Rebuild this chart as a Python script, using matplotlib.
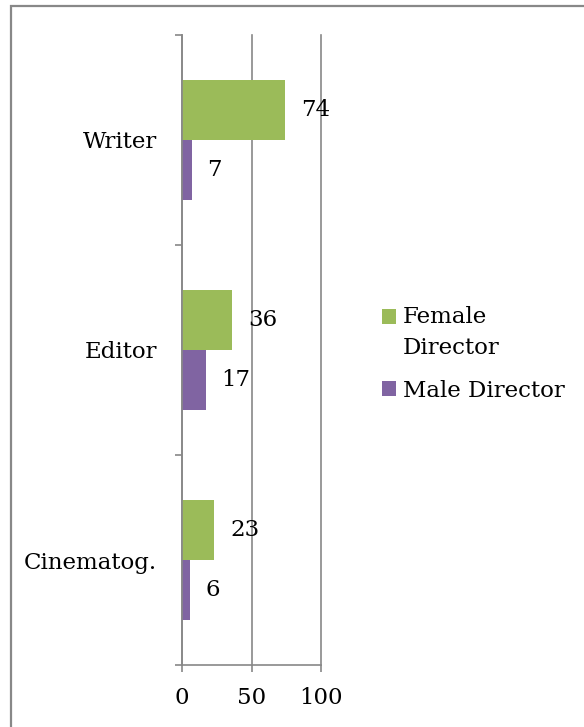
import matplotlib
matplotlib.use("Agg")
import matplotlib.pyplot as plt
from matplotlib.patches import Rectangle
from matplotlib.legend_handler import HandlerPatch
import numpy as np

categories = ["Cinematog.", "Editor", "Writer"]
female = [23, 36, 74]
male = [6, 17, 7]
xticks = [0, 50, 100]

GREEN = "#9bbb59"
PURPLE = "#8064a2"
GREY = "#888888"
FONT = "DejaVu Serif"
FS = 16.5

plt.rcParams["font.family"] = FONT

fig = plt.figure(figsize=(5.84, 7.27), dpi=100)
fig.patches.append(Rectangle((11 / 584, -0.01), 1.0, 1 - 6 / 727 + 0.01,
                             transform=fig.transFigure, fill=False,
                             edgecolor=GREY, linewidth=1.6))

ax = fig.add_axes([182 / 584, 1 - 665 / 727, 139 / 584, 630 / 727])
y = np.arange(len(categories))
h = 60 / 210
fbars = ax.barh(y + h / 2, female, height=h, color=GREEN, zorder=2)
mbars = ax.barh(y - h / 2, male, height=h, color=PURPLE, zorder=2)

for yi, v in zip(y + h / 2, female):
    ax.annotate(str(v), (v, yi), xytext=(12, 0), textcoords="offset points",
                va="center", ha="left", fontsize=FS)
for yi, v in zip(y - h / 2, male):
    ax.annotate(str(v), (v, yi), xytext=(11, 0), textcoords="offset points",
                va="center", ha="left", fontsize=FS)

ax.set_xlim(0, 100)
ax.set_ylim(-0.5, len(categories) - 0.5)
ax.set_xticks(xticks)
ax.set_xticklabels([str(t) for t in xticks], fontsize=FS)
ax.tick_params(axis="x", length=5, color=GREY, width=1.2, pad=11)
ax.set_yticks(np.arange(len(categories) + 1) - 0.5)
ax.set_yticklabels([])
ax.set_yticks(y, minor=True)
ax.set_yticklabels(categories, minor=True, fontsize=FS)
ax.tick_params(axis="y", which="major", length=5, color=GREY, width=1.2)
ax.tick_params(axis="y", which="minor", length=0, pad=18)
ax.grid(axis="x", color=GREY, linewidth=1.2, zorder=0)
for gl in ax.get_xgridlines():
    gl.set_clip_on(False)
ax.set_axisbelow(True)
for s in ("top", "right"):
    ax.spines[s].set_visible(False)
for s in ("left", "bottom"):
    ax.spines[s].set_color(GREY)
    ax.spines[s].set_linewidth(1.2)


# marker of the two-line entry sits on its first line, as in the original
def top_square(legend, orig_handle, xdescent, ydescent, width, height, fontsize):
    return Rectangle((-xdescent, -ydescent + 0.72 * fontsize), width, height)


fh, mh = fbars.patches[0], mbars.patches[0]
leg = fig.legend([fh, mh], ["Female\nDirector", "Male Director"],
                 loc="center left", bbox_to_anchor=(382 / 584, 1 - 354 / 727),
                 frameon=False, fontsize=FS, handlelength=0.6, handleheight=0.6,
                 handletextpad=0.3, labelspacing=0.9, borderpad=0,
                 borderaxespad=0,
                 handler_map={fh: HandlerPatch(patch_func=top_square)})
for t in leg.get_texts():
    t.set_linespacing(1.5)

fig.savefig("out.png", dpi=100)
